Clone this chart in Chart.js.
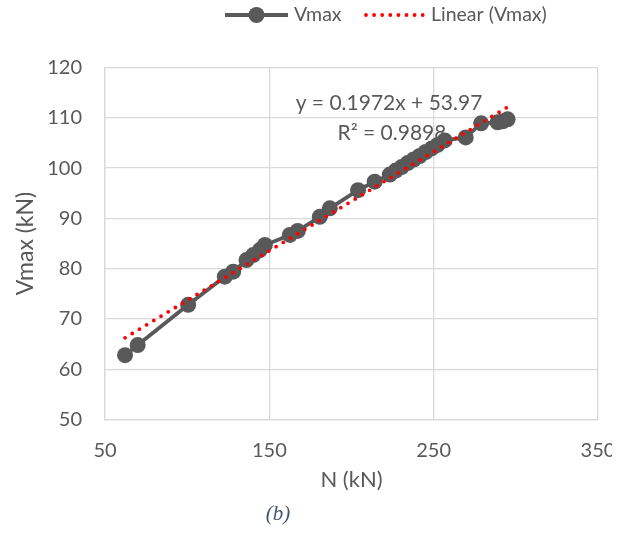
<!DOCTYPE html>
<html>
<head>
<meta charset="utf-8">
<script src="https://cdn.jsdelivr.net/npm/chart.js@4/dist/chart.umd.min.js"></script>
<style>
  html, body { margin: 0; padding: 0; background: #ffffff; }
  #wrap { width: 625px; height: 533px; background: #ffffff; }
  #c { display: block; }
</style>
</head>
<body>
<div id="wrap"><canvas id="c" width="612" height="533"></canvas></div>
<script>
// Axial load N (kN) and peak shear Vmax (kN)
const nValues = [62.2, 69.9, 100.6, 122.9, 128.0, 136.1, 140.2, 144.2, 147.3, 162.5,
                 167.3, 180.7, 186.8, 204.0, 214.1, 223.3, 226.9, 230.5, 234.2, 237.8,
                 241.5, 245.1, 248.8, 252.4, 256.7, 269.5, 278.9, 288.9, 292.0, 295.0];
const vmaxValues = [62.8, 64.8, 72.8, 78.4, 79.4, 81.7, 82.7, 83.7, 84.7, 86.7,
                    87.5, 90.3, 92.0, 95.6, 97.3, 98.7, 99.5, 100.2, 101.0, 101.7,
                    102.4, 103.2, 103.9, 104.6, 105.5, 106.1, 108.9, 109.1, 109.3, 109.7];

// Linear fit coefficients as printed on the chart
const fitSlope = 0.1972;
const fitIntercept = 53.97;
const fitR2 = 0.9898;

const xTicks = [50, 150, 250, 350];
const yTicks = [50, 60, 70, 80, 90, 100, 110, 120];

const seriesLabel = 'Vmax';
const fitLabel = 'Linear (Vmax)';

const GREY = '#595959';
const RED = '#ff0000';
const FONT = 'Lato';

const seriesPoints = nValues.map((n, i) => ({ x: n, y: vmaxValues[i] }));
const nMin = Math.min(...nValues);
const nMax = Math.max(...nValues);
const fitPoints = [nMin, nMax].map(n => ({ x: n, y: fitSlope * n + fitIntercept }));

// Legend, equation box and caption drawn on top of the chart
const extrasPlugin = {
  id: 'extras',
  afterDraw(chart) {
    const ctx = chart.ctx;
    ctx.save();

    // legend
    const ly = 15;
    ctx.strokeStyle = GREY;
    ctx.lineWidth = 4;
    ctx.lineCap = 'butt';
    ctx.beginPath();
    ctx.moveTo(225, ly);
    ctx.lineTo(288, ly);
    ctx.stroke();
    ctx.fillStyle = GREY;
    ctx.beginPath();
    ctx.arc(256.5, ly, 8, 0, Math.PI * 2);
    ctx.fill();

    ctx.font = '19.5px ' + FONT;
    ctx.textBaseline = 'middle';
    ctx.textAlign = 'left';
    ctx.fillText(seriesLabel, 294, ly);

    ctx.fillStyle = RED;
    for (let x = 366; x <= 423; x += 8.1) {
      ctx.beginPath();
      ctx.arc(x, ly, 1.9, 0, Math.PI * 2);
      ctx.fill();
    }
    ctx.fillStyle = GREY;
    ctx.fillText(fitLabel, 431, ly);

    // trendline equation
    ctx.font = '21px ' + FONT;
    ctx.textAlign = 'center';
    ctx.fillText('y = ' + fitSlope + 'x + ' + fitIntercept.toFixed(2), 389, 103);
    ctx.fillText('R\u00b2 = ' + fitR2, 392, 133);

    // caption
    ctx.fillStyle = '#44546a';
    ctx.font = 'italic 21px "Liberation Serif"';
    ctx.fillText('(b)', 278, 514);

    ctx.restore();
  }
};

new Chart(document.getElementById('c'), {
  type: 'scatter',
  data: {
    datasets: [
      {
        label: fitLabel,
        data: fitPoints,
        showLine: true,
        borderColor: RED,
        borderWidth: 3.8,
        borderDash: [0, 8.4],
        borderCapStyle: 'round',
        pointRadius: 0,
        order: 0
      },
      {
        label: seriesLabel,
        data: seriesPoints,
        showLine: true,
        borderColor: GREY,
        backgroundColor: GREY,
        borderWidth: 3.8,
        pointRadius: 8,
        pointBorderWidth: 0,
        pointBackgroundColor: GREY,
        order: 1
      }
    ]
  },
  options: {
    responsive: false,
    animation: false,
    layout: { padding: { left: 0, right: 14, top: 67.5, bottom: 40 } },
    plugins: {
      legend: { display: false },
      tooltip: { enabled: false }
    },
    scales: {
      x: {
        type: 'linear',
        min: 50,
        max: 350,
        afterBuildTicks: s => { s.ticks = xTicks.map(v => ({ value: v })); },
        afterFit: s => { s.height = 73.5; s.paddingRight = 0; },
        ticks: { color: GREY, font: { family: FONT, size: 20 }, padding: 19, maxRotation: 0 },
        grid: { color: '#d9d9d9', lineWidth: 1.3, drawTicks: false },
        border: { color: '#d9d9d9', width: 1.3 },
        title: { display: true, text: 'N (kN)', color: GREY, font: { family: FONT, size: 22 }, padding: { top: 0, bottom: 0 } }
      },
      y: {
        type: 'linear',
        min: 50,
        max: 120,
        afterBuildTicks: s => { s.ticks = yTicks.map(v => ({ value: v })); },
        afterFit: s => { s.width = 105; },
        ticks: { color: GREY, font: { family: FONT, size: 20 }, padding: 23 },
        grid: { color: '#d9d9d9', lineWidth: 1.3, drawTicks: false },
        border: { color: '#d9d9d9', width: 1.3 },
        title: { display: true, text: 'Vmax (kN)', color: GREY, font: { family: FONT, size: 23 }, padding: { top: 12, bottom: 0 } }
      }
    }
  },
  plugins: [extrasPlugin]
});
</script>
</body>
</html>
